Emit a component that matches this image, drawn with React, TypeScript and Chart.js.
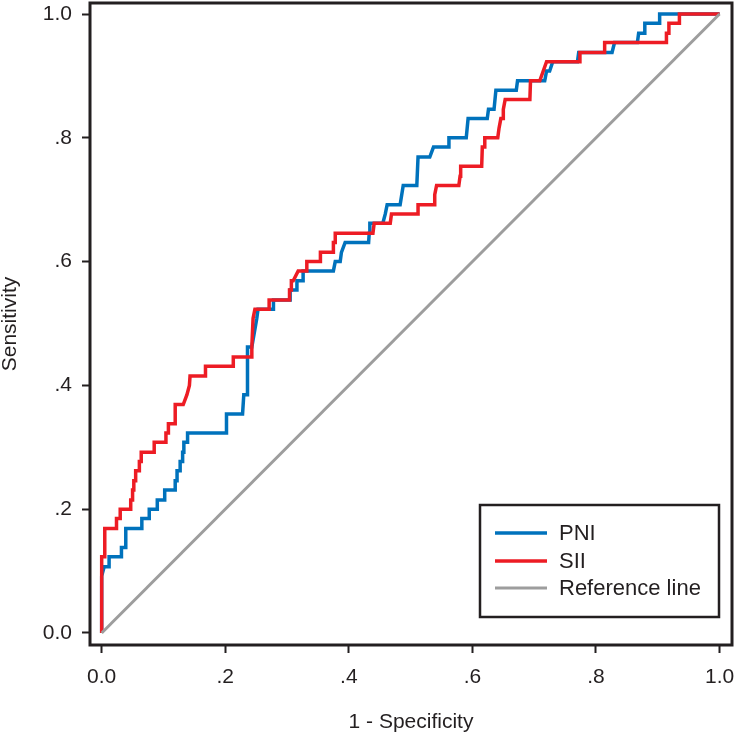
import React, { useEffect, useRef } from "react";
import { Chart, registerables } from "chart.js";

Chart.register(...registerables);

// ROC curve vertices (1 - specificity, sensitivity)
const pniFpr = [
  0, 0, 0.004, 0.012, 0.012, 0.032, 0.032, 0.039, 0.039, 0.065, 0.065, 0.077, 0.077, 0.09, 0.09,
  0.102, 0.102, 0.119, 0.119, 0.122, 0.122, 0.127, 0.127, 0.131, 0.131, 0.133, 0.133, 0.139, 0.139,
  0.202, 0.202, 0.228, 0.23, 0.236, 0.236, 0.243, 0.251, 0.253, 0.278, 0.278, 0.305, 0.305, 0.316,
  0.316, 0.326, 0.326, 0.375, 0.378, 0.386, 0.388, 0.394, 0.432, 0.433, 0.434, 0.455, 0.459, 0.462,
  0.483, 0.488, 0.51, 0.512, 0.531, 0.537, 0.562, 0.562, 0.59, 0.593, 0.624, 0.626, 0.635, 0.638,
  0.671, 0.673, 0.717, 0.72, 0.725, 0.73, 0.77, 0.772, 0.826, 0.83, 0.867, 0.869, 0.879, 0.879,
  0.903, 0.903, 1.0,
];
const pniTpr = [
  0, 0.092, 0.107, 0.107, 0.123, 0.123, 0.138, 0.138, 0.169, 0.169, 0.185, 0.185, 0.2, 0.2, 0.215,
  0.215, 0.231, 0.231, 0.246, 0.246, 0.262, 0.262, 0.277, 0.277, 0.292, 0.292, 0.308, 0.308, 0.323,
  0.323, 0.354, 0.354, 0.385, 0.385, 0.462, 0.462, 0.508, 0.523, 0.523, 0.538, 0.538, 0.554, 0.554,
  0.569, 0.569, 0.585, 0.585, 0.6, 0.6, 0.615, 0.631, 0.631, 0.646, 0.662, 0.662, 0.677, 0.692,
  0.692, 0.723, 0.723, 0.769, 0.769, 0.785, 0.785, 0.8, 0.8, 0.831, 0.831, 0.846, 0.846, 0.877,
  0.877, 0.892, 0.892, 0.908, 0.908, 0.923, 0.923, 0.938, 0.938, 0.954, 0.954, 0.969, 0.969, 0.985,
  0.985, 1.0, 1.0,
];

const siiFpr = [
  0, 0, 0.005, 0.005, 0.024, 0.024, 0.03, 0.03, 0.047, 0.047, 0.05, 0.05, 0.052, 0.052, 0.055, 0.055,
  0.061, 0.061, 0.064, 0.064, 0.085, 0.085, 0.104, 0.104, 0.108, 0.108, 0.119, 0.119, 0.132, 0.138,
  0.142, 0.143, 0.168, 0.168, 0.213, 0.213, 0.243, 0.243, 0.245, 0.248, 0.271, 0.271, 0.304, 0.304,
  0.307, 0.307, 0.31, 0.318, 0.332, 0.332, 0.354, 0.354, 0.375, 0.375, 0.378, 0.378, 0.439, 0.441,
  0.467, 0.469, 0.512, 0.512, 0.538, 0.539, 0.542, 0.578, 0.58, 0.581, 0.615, 0.616, 0.62, 0.62,
  0.641, 0.643, 0.646, 0.65, 0.65, 0.653, 0.693, 0.694, 0.709, 0.72, 0.774, 0.774, 0.814, 0.814,
  0.914, 0.914, 0.918, 0.918, 0.935, 0.935, 1.0,
];
const siiTpr = [
  0, 0.123, 0.123, 0.169, 0.169, 0.185, 0.185, 0.2, 0.2, 0.215, 0.215, 0.231, 0.231, 0.246, 0.246,
  0.262, 0.262, 0.277, 0.277, 0.292, 0.292, 0.308, 0.308, 0.323, 0.323, 0.338, 0.338, 0.369, 0.369,
  0.385, 0.4, 0.415, 0.415, 0.431, 0.431, 0.446, 0.446, 0.462, 0.508, 0.523, 0.523, 0.538, 0.538,
  0.554, 0.554, 0.569, 0.569, 0.585, 0.585, 0.6, 0.6, 0.615, 0.615, 0.631, 0.631, 0.646, 0.646,
  0.662, 0.662, 0.677, 0.677, 0.692, 0.692, 0.708, 0.723, 0.723, 0.738, 0.754, 0.754, 0.785, 0.785,
  0.8, 0.8, 0.815, 0.831, 0.831, 0.846, 0.862, 0.862, 0.892, 0.892, 0.923, 0.923, 0.938, 0.938,
  0.954, 0.954, 0.969, 0.969, 0.985, 0.985, 1.0, 1.0,
];

const refFpr = [0, 1];
const refTpr = [0, 1];

const seriesNames = ["PNI", "SII", "Reference line"];
const seriesColors = ["#0072bc", "#ed1c24", "#9d9d9d"];

const tickValues = [0, 0.2, 0.4, 0.6, 0.8, 1.0];
const tickLabels = ["0.0", ".2", ".4", ".6", ".8", "1.0"];
const xTitle = "1 - Specificity";
const yTitle = "Sensitivity";

const INK = "#231f20";
const FONT = "'Liberation Sans', Arial, Helvetica, sans-serif";

const toPoints = (xs: number[], ys: number[]) => xs.map((x, i) => ({ x, y: ys[i] }));

const framePlugin = {
  id: "frameAndLegend",
  afterDatasetsDraw(chart: any) {
    const { ctx, chartArea } = chart;
    ctx.save();
    ctx.strokeStyle = INK;
    ctx.lineWidth = 3;
    ctx.strokeRect(chartArea.left, chartArea.top, chartArea.right - chartArea.left, chartArea.bottom - chartArea.top);

    // legend box
    const bw = 239;
    const bh = 112;
    const bx = chartArea.right - 13 - bw;
    const by = chartArea.bottom - 28 - bh;
    ctx.fillStyle = "#ffffff";
    ctx.fillRect(bx, by, bw, bh);
    ctx.lineWidth = 2.5;
    ctx.strokeStyle = INK;
    ctx.strokeRect(bx, by, bw, bh);
    const rowY = [28, 56, 83];
    chart.data.datasets.forEach((ds: any, i: number) => {
      const y = by + rowY[i];
      ctx.beginPath();
      ctx.strokeStyle = ds.borderColor;
      ctx.lineWidth = ds.borderWidth;
      ctx.lineCap = "butt";
      ctx.moveTo(bx + 15, y);
      ctx.lineTo(bx + 67, y);
      ctx.stroke();
      ctx.fillStyle = INK;
      ctx.font = `22px ${FONT}`;
      ctx.textBaseline = "middle";
      ctx.textAlign = "left";
      ctx.fillText(ds.label, bx + 79, y + 1);
    });
    ctx.restore();
  },
};

export default function App() {
  const canvasRef = useRef<HTMLCanvasElement | null>(null);

  useEffect(() => {
    if (!canvasRef.current) return;
    const fixTicks = (scale: any) => {
      scale.ticks = tickValues.map((v) => ({ value: v }));
    };
    const zeroPad = (s: any) => {
      s.paddingLeft = 0;
      s.paddingRight = 0;
      s.paddingTop = 0;
      s.paddingBottom = 0;
    };
    const chart = new Chart(canvasRef.current, {
      type: "line",
      data: {
        datasets: [
          {
            label: seriesNames[0],
            data: toPoints(pniFpr, pniTpr),
            borderColor: seriesColors[0],
            backgroundColor: seriesColors[0],
            borderWidth: 3.5,
            pointRadius: 0,
            tension: 0,
            order: 3,
          },
          {
            label: seriesNames[1],
            data: toPoints(siiFpr, siiTpr),
            borderColor: seriesColors[1],
            backgroundColor: seriesColors[1],
            borderWidth: 3.5,
            pointRadius: 0,
            tension: 0,
            order: 2,
          },
          {
            label: seriesNames[2],
            data: toPoints(refFpr, refTpr),
            borderColor: seriesColors[2],
            backgroundColor: seriesColors[2],
            borderWidth: 3,
            pointRadius: 0,
            tension: 0,
            order: 1,
          },
        ],
      },
      options: {
        animation: false,
        responsive: false,
        devicePixelRatio: 1,
        layout: { padding: { top: 3, right: 3, left: 0, bottom: 0 } },
        plugins: {
          legend: { display: false },
          tooltip: { enabled: false },
        },
        scales: {
          x: {
            type: "linear",
            min: -0.0189,
            max: 1.0201,
            afterBuildTicks: fixTicks,
            afterFit: (s: any) => {
              s.height = 90;
              zeroPad(s);
            },
            border: { display: false },
            grid: {
              drawOnChartArea: false,
              drawTicks: true,
              tickLength: 8,
              tickWidth: 2,
              tickColor: INK,
            },
            ticks: {
              autoSkip: false,
              maxRotation: 0,
              padding: 12,
              color: INK,
              font: { family: FONT, size: 21, lineHeight: 1.2 },
              callback: (_v: any, i: number) => tickLabels[i],
            },
            title: {
              display: true,
              text: xTitle,
              color: INK,
              font: { family: FONT, size: 21, lineHeight: 1 },
              padding: { top: 0, bottom: 2 },
            },
          },
          y: {
            type: "linear",
            min: -0.0194,
            max: 1.0178,
            afterBuildTicks: fixTicks,
            afterFit: (s: any) => {
              s.width = 90;
              zeroPad(s);
            },
            border: { display: false },
            grid: {
              drawOnChartArea: false,
              drawTicks: true,
              tickLength: 8,
              tickWidth: 2,
              tickColor: INK,
            },
            ticks: {
              autoSkip: false,
              padding: 10,
              color: INK,
              font: { family: FONT, size: 21, lineHeight: 1.2 },
              callback: (_v: any, i: number) => tickLabels[i],
            },
            title: {
              display: true,
              text: yTitle,
              color: INK,
              font: { family: FONT, size: 21, lineHeight: 1 },
              padding: { top: 0, bottom: 0 },
            },
          },
        },
      },
      plugins: [framePlugin],
    });
    return () => chart.destroy();
  }, []);

  return (
    <div style={{ position: "fixed", left: 0, top: 0, width: 735, height: 735, background: "#fff" }}>
      <canvas ref={canvasRef} width={735} height={735} style={{ display: "block" }} />
    </div>
  );
}
